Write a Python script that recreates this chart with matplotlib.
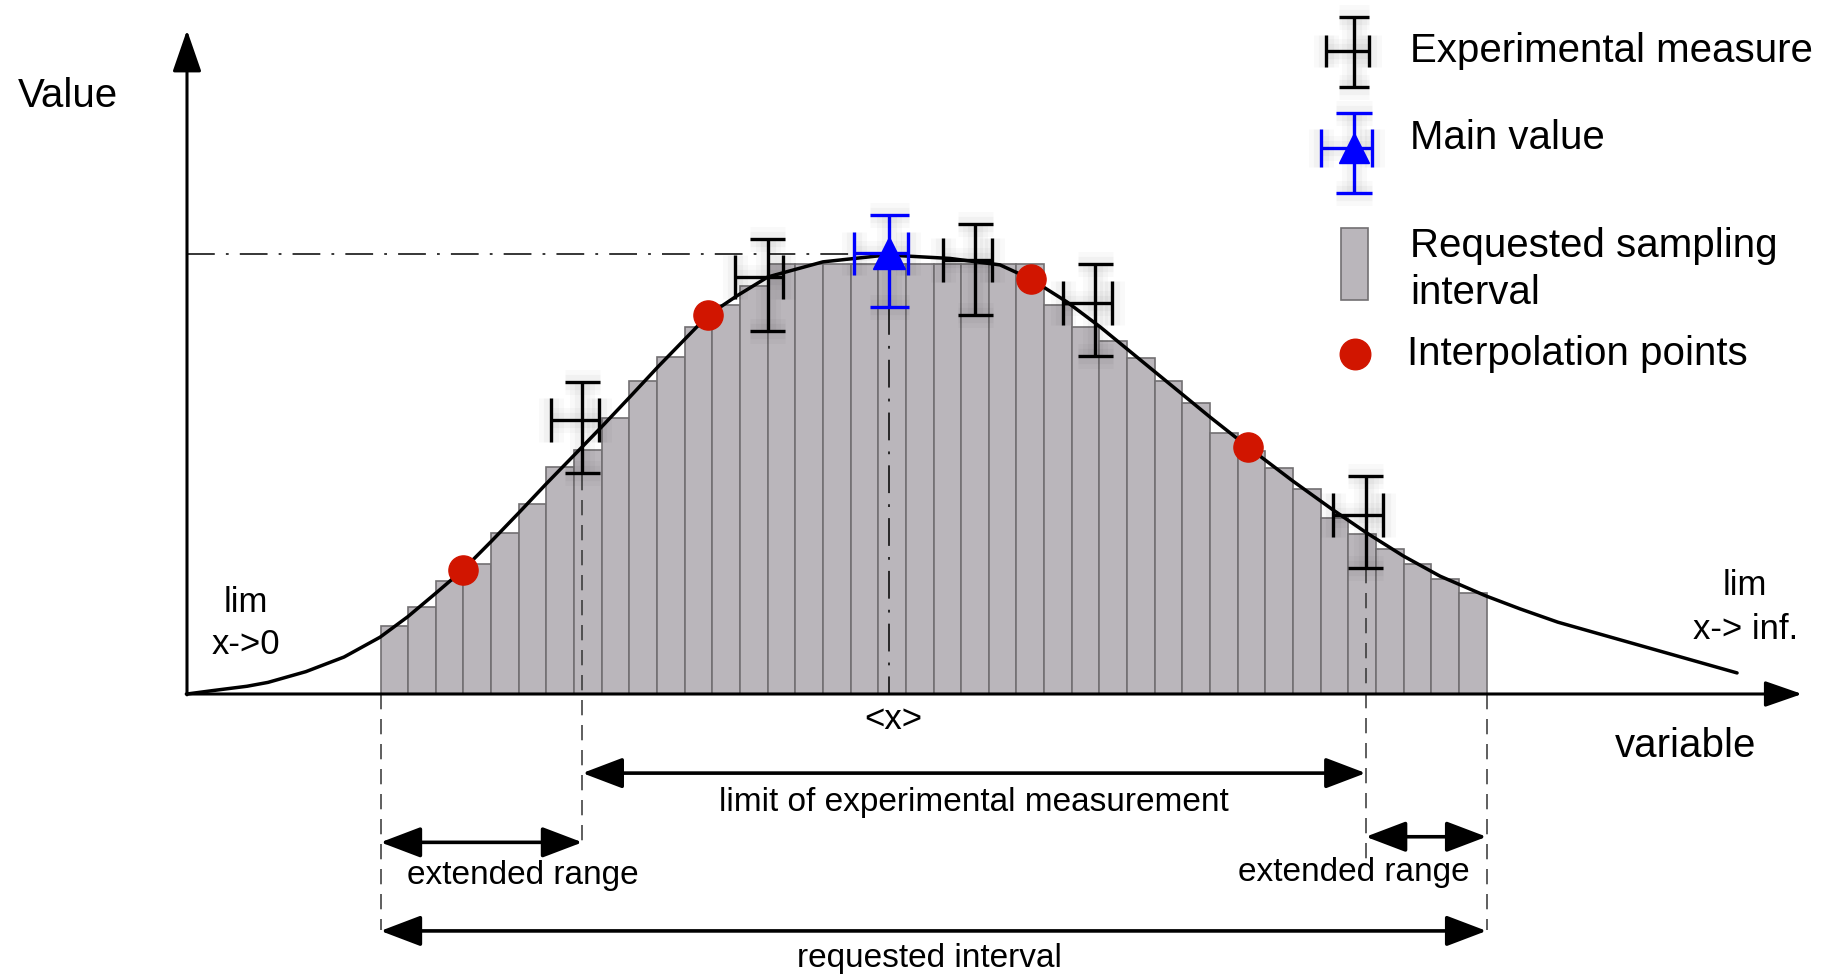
import numpy as np
import matplotlib.pyplot as plt
import matplotlib.patheffects as pe
from matplotlib.patches import Rectangle

plt.rcParams['font.family'] = ['Liberation Sans', 'DejaVu Sans']
plt.rcParams['lines.scale_dashes'] = False

# requested sampling interval: unit-width bins starting at x = 7
bin_left = np.arange(7, 47)
bin_values = [1.57, 2.03, 2.63, 3.02, 3.74, 4.41, 5.27, 5.67, 6.41, 7.28,
              7.83, 8.54, 9.05, 9.49, 10.0, 10.0, 10.0, 10.0, 10.0, 10.0,
              10.0, 10.0, 10.0, 10.0, 9.05, 8.54, 8.22, 7.81, 7.28, 6.76,
              6.06, 5.66, 5.26, 4.76, 4.09, 3.72, 3.37, 3.02, 2.67, 2.36]

# underlying curve
curve_x = [0.0, 0.94, 2.17, 2.93, 4.30, 5.68, 6.98, 7.99, 8.99, 9.97,
           10.99, 12.01, 13.01, 14.01, 15.02, 16.02, 17.02, 18.85, 19.89, 21.01,
           23.0, 25.31, 27.59, 29.40, 30.52, 31.82, 33.02, 35.01, 37.0, 38.36,
           40.0, 41.45, 42.68, 43.99, 45.32, 46.98, 48.21, 49.58, 56.06]
curve_y = [0.0, 0.08, 0.18, 0.27, 0.52, 0.86, 1.32, 1.80, 2.34, 2.88,
           3.54, 4.22, 4.90, 5.56, 6.23, 6.91, 7.60, 8.81, 9.26, 9.70,
           10.05, 10.21, 10.13, 9.98, 9.65, 9.12, 8.54, 7.49, 6.44, 5.75,
           4.95, 4.28, 3.74, 3.21, 2.74, 2.28, 1.98, 1.67, 0.49]

# experimental measures (asymmetric errors)
exp_x = [14.30, 21.01, 28.50, 32.84, 42.63]
exp_y = [6.37, 9.70, 10.09, 9.10, 4.16]
exp_xerr_lo = [1.14, 1.19, 1.15, 1.15, 1.17]
exp_xerr_hi = [0.61, 0.56, 0.62, 0.62, 0.61]
exp_yerr_lo = [1.24, 1.25, 1.28, 1.23, 1.22]
exp_yerr_hi = [0.89, 0.88, 0.84, 0.90, 0.91]

# main value
main_x = [25.40]
main_y = [10.25]
main_xerr = [[1.28], [0.66]]
main_yerr = [[1.24], [0.89]]

# interpolation points
interp_x = [9.97, 18.85, 30.52, 38.36]
interp_y = [2.88, 8.81, 9.65, 5.75]

bar_color = '#bab6bb'
bar_edge = '#727072'
red = '#d11500'
blue = '#0000ff'

glow = [pe.Stroke(linewidth=18, foreground=(0, 0, 0, 0.025)),
        pe.Stroke(linewidth=11, foreground=(0, 0, 0, 0.03)),
        pe.Normal()]


def cross(ax, x, y, xerr, yerr, color, ycap, xcap, lw=2.4, z=5):
    parts = []
    parts.append(ax.errorbar(x, y, yerr=yerr, fmt='none', ecolor=color,
                             elinewidth=lw, capsize=ycap, capthick=lw, zorder=z))
    parts.append(ax.errorbar(x, y, xerr=xerr, fmt='none', ecolor=color,
                             elinewidth=lw, capsize=xcap, capthick=lw, zorder=z))
    for cont in parts:
        for art in cont.get_children():
            art.set_path_effects(glow)


fig = plt.figure(figsize=(18.45, 9.74), dpi=100)
ax = fig.add_axes([0, 0, 1, 1])
ax.set_xlim(-6.763, 59.964)
ax.set_ylim(-6.512, 16.140)
ax.axis('off')

# bars
ax.bar(bin_left, bin_values, width=1.0, align='edge', color=bar_color,
       edgecolor=bar_edge, linewidth=1.2, zorder=2)

# curve
ax.plot(curve_x, curve_y, color='black', lw=2.5, zorder=3,
        solid_joinstyle='round', solid_capstyle='round')

# axes arrows
ax.annotate('', xy=(0, 15.44), xytext=(0, -0.02),
            arrowprops=dict(arrowstyle='-|>,head_length=2.6,head_width=0.9',
                            mutation_scale=10, lw=2.2, color='black',
                            shrinkA=0, shrinkB=0), zorder=4)
ax.annotate('', xy=(58.41, 0), xytext=(-0.03, 0),
            arrowprops=dict(arrowstyle='-|>,head_length=2.3,head_width=0.8',
                            mutation_scale=10, lw=2.2, color='black',
                            shrinkA=0, shrinkB=0), zorder=4)

# guide lines
dashdot = (0, (20, 8, 2, 8))
ax.plot([0, 25.4], [10.23, 10.23], color='black', lw=1.1, linestyle=dashdot, zorder=3)
ax.plot([25.4, 25.4], [9.0, 0], color='black', lw=1.1, linestyle=dashdot, zorder=3)
dashed = (0, (11, 7))
ax.plot([7, 7], [0, -5.49], color='#333333', lw=1.1, linestyle=dashed)
ax.plot([47, 47], [0, -5.49], color='#333333', lw=1.1, linestyle=dashed)
ax.plot([14.30, 14.30], [5.10, -3.56], color='#333333', lw=1.1, linestyle=dashed, zorder=3)
ax.plot([42.63, 42.63], [2.92, -3.98], color='#333333', lw=1.1, linestyle=dashed, zorder=3)

# error bars
cross(ax, exp_x, exp_y, [exp_xerr_lo, exp_xerr_hi], [exp_yerr_lo, exp_yerr_hi],
      'black', ycap=12.6, xcap=15.8)
cross(ax, main_x, main_y, main_xerr, main_yerr, blue, ycap=14, xcap=15.6)
ax.plot(main_x, main_y, marker='^', ms=23, color=blue, linestyle='none', zorder=6)

# interpolation points
ax.plot(interp_x, interp_y, 'o', ms=21, color=red, mec=red, zorder=6)

# double arrows
def darrow(x0, x1, y):
    ax.annotate('', xy=(x1, y), xytext=(x0, y),
                arrowprops=dict(arrowstyle='<|-|>,head_length=2.5,head_width=0.95',
                                mutation_scale=10, lw=2.6, color='black',
                                shrinkA=0, shrinkB=0))

darrow(14.30, 42.63, -1.84)
darrow(7, 14.30, -3.45)
darrow(42.63, 47, -3.32)
darrow(7, 47, -5.51)

fs = 24
ax.text(28.46, -2.52, 'limit of experimental measurement', fontsize=fs, ha='center', va='center')
ax.text(12.13, -4.22, 'extended range', fontsize=fs, ha='center', va='center')
ax.text(42.2, -4.14, 'extended range', fontsize=fs, ha='center', va='center')
ax.text(26.86, -6.16, 'requested interval', fontsize=fs, ha='center', va='center')
ax.text(25.53, -0.60, '<x>', fontsize=25, ha='center', va='center')
ax.text(54.18, -1.21, 'variable', fontsize=29, ha='center', va='center')
ax.text(-4.30, 13.9, 'Value', fontsize=29, ha='center', va='center')
ax.text(2.13, 2.13, 'lim', fontsize=25, ha='center', va='center')
ax.text(2.13, 1.14, 'x->0', fontsize=25, ha='center', va='center')
ax.text(56.35, 2.53, 'lim', fontsize=25, ha='center', va='center')
ax.text(56.35, 1.50, 'x-> inf.', fontsize=25, ha='center', va='center')

# legend (drawn by hand)
cross(ax, [42.21], [14.95], [[1.0], [0.54]], [[0.84], [0.79]], 'black', ycap=10.8, xcap=11.5)
cross(ax, [42.21], [12.70], [[1.20], [0.63]], [[1.05], [0.81]], blue, ycap=13, xcap=13.7)
ax.plot([42.21], [12.70], marker='^', ms=21, color=blue, linestyle='none', zorder=6)
ax.add_patch(Rectangle((41.73, 9.16), 1.0, 1.68, facecolor=bar_color,
                       edgecolor=bar_edge, linewidth=1.2))
ax.plot([42.26], [7.91], 'o', ms=22, color=red, mec=red)
lfs = 29
ax.text(44.23, 14.96, 'Experimental measure', fontsize=lfs, va='center')
ax.text(44.23, 12.94, 'Main value', fontsize=lfs, va='center')
ax.text(44.23, 10.42, 'Requested sampling', fontsize=lfs, va='center')
ax.text(44.23, 9.33, 'interval', fontsize=lfs, va='center')
ax.text(44.12, 7.91, 'Interpolation points', fontsize=lfs, va='center')

fig.savefig('out.png', dpi=100)
